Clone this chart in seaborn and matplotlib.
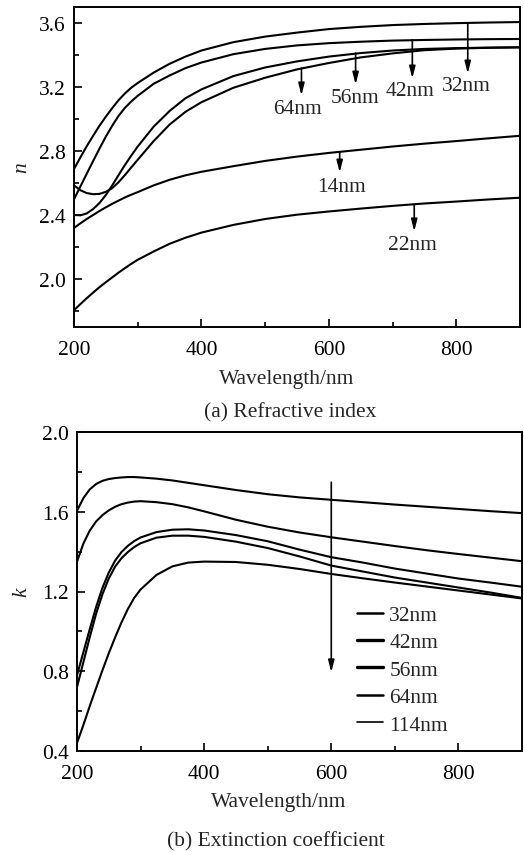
import numpy as np
import pandas as pd
import matplotlib
matplotlib.use("Agg")
import matplotlib.pyplot as plt
import seaborn as sns

# ---------------- data ----------------
wavelength = [200, 210, 220, 230, 240, 250, 260, 270, 280, 290, 300, 325, 350,
              375, 400, 450, 500, 550, 600, 650, 700, 750, 800, 850, 900]

n_labels = ["32nm", "42nm", "56nm", "64nm", "14nm", "22nm"]
n_32 = [2.687, 2.760, 2.830, 2.895, 2.958, 3.015, 3.068, 3.118, 3.160, 3.196, 3.225, 3.290, 3.345,
        3.390, 3.428, 3.480, 3.515, 3.540, 3.562, 3.576, 3.587, 3.594, 3.599, 3.603, 3.606]
n_42 = [2.498, 2.578, 2.658, 2.737, 2.815, 2.890, 2.958, 3.020, 3.070, 3.110, 3.145, 3.220, 3.272,
        3.318, 3.353, 3.405, 3.438, 3.460, 3.474, 3.483, 3.490, 3.494, 3.497, 3.499, 3.500]
n_56 = [2.400, 2.398, 2.410, 2.437, 2.475, 2.525, 2.585, 2.650, 2.713, 2.772, 2.828, 2.952, 3.050,
        3.130, 3.185, 3.268, 3.322, 3.360, 3.390, 3.412, 3.428, 3.438, 3.443, 3.446, 3.448]
n_64 = [2.585, 2.555, 2.537, 2.530, 2.532, 2.545, 2.568, 2.605, 2.650, 2.698, 2.745, 2.862, 2.965,
        3.045, 3.105, 3.195, 3.258, 3.310, 3.350, 3.385, 3.410, 3.430, 3.440, 3.445, 3.448]
n_14 = [2.319, 2.348, 2.375, 2.400, 2.425, 2.448, 2.470, 2.490, 2.510, 2.527, 2.543, 2.585, 2.620,
        2.648, 2.670, 2.705, 2.738, 2.765, 2.788, 2.808, 2.828, 2.846, 2.862, 2.879, 2.895]
n_22 = [1.805, 1.843, 1.880, 1.915, 1.949, 1.980, 2.010, 2.040, 2.068, 2.095, 2.120, 2.172, 2.220,
        2.258, 2.290, 2.338, 2.375, 2.402, 2.422, 2.440, 2.457, 2.472, 2.484, 2.497, 2.508]

k_labels = ["32nm", "42nm", "56nm", "64nm", "114nm"]
k_32 = [1.605, 1.668, 1.712, 1.739, 1.755, 1.764, 1.769, 1.772, 1.774, 1.774, 1.772, 1.766, 1.757,
        1.745, 1.733, 1.709, 1.688, 1.672, 1.660, 1.648, 1.636, 1.625, 1.614, 1.603, 1.593]
k_42 = [1.350, 1.440, 1.505, 1.551, 1.583, 1.607, 1.625, 1.638, 1.646, 1.651, 1.653, 1.648, 1.638,
        1.622, 1.602, 1.560, 1.525, 1.496, 1.472, 1.450, 1.428, 1.407, 1.388, 1.370, 1.352]
k_56 = [0.780, 0.895, 1.010, 1.122, 1.218, 1.295, 1.355, 1.398, 1.429, 1.453, 1.471, 1.498, 1.510,
        1.512, 1.506, 1.483, 1.452, 1.410, 1.372, 1.345, 1.315, 1.290, 1.265, 1.245, 1.224]
k_64 = [0.720, 0.845, 0.970, 1.088, 1.186, 1.265, 1.325, 1.367, 1.398, 1.423, 1.442, 1.470, 1.480,
        1.480, 1.474, 1.450, 1.418, 1.376, 1.330, 1.300, 1.270, 1.245, 1.220, 1.195, 1.168]
k_114 = [0.440, 0.530, 0.625, 0.715, 0.805, 0.890, 0.970, 1.045, 1.112, 1.168, 1.210, 1.283, 1.326,
         1.345, 1.350, 1.348, 1.334, 1.313, 1.288, 1.266, 1.245, 1.225, 1.205, 1.185, 1.165]

# arrow annotations (a): label, x, y_start, y_end, label x, label y
ann_labels = ["32nm", "42nm", "56nm", "64nm", "14nm", "22nm"]
ann_x = [818, 731, 642, 557, 617, 734]
ann_y0 = [3.600, 3.494, 3.412, 3.318, 2.795, 2.466]
ann_y1 = [3.285, 3.254, 3.216, 3.148, 2.666, 2.298]
ann_tx = [816, 727, 641, 550, 620, 731]
ann_ty = [3.21, 3.18, 3.132, 3.065, 2.58, 2.214]

# ---------------- frames ----------------
n_series = [n_32, n_42, n_56, n_64, n_14, n_22]
k_series = [k_32, k_42, k_56, k_64, k_114]
df_n = pd.concat([pd.DataFrame({"Wavelength": wavelength, "value": v, "film": lab})
                  for lab, v in zip(n_labels, n_series)], ignore_index=True)
df_k = pd.concat([pd.DataFrame({"Wavelength": wavelength, "value": v, "film": lab})
                  for lab, v in zip(k_labels, k_series)], ignore_index=True)

sns.set_style("ticks")
plt.rcParams["font.family"] = ["Liberation Serif", "DejaVu Serif"]
FS = 15.5

W, H = 524, 853
fig = plt.figure(figsize=(W / 100, H / 100), dpi=100)

def px_axes(l, t, r, b):
    return fig.add_axes([l / W, 1 - b / H, (r - l) / W, (b - t) / H])

ax1 = px_axes(74, 8, 520, 328)
ax2 = px_axes(77, 433, 522, 752)

sns.lineplot(data=df_n, x="Wavelength", y="value", hue="film", palette=["black"] * 6,
             linewidth=1.5, legend=False, ax=ax1, estimator=None, sort=False)
sns.lineplot(data=df_k, x="Wavelength", y="value", hue="film", palette=["black"] * 5,
             linewidth=1.5, legend=True, ax=ax2, estimator=None, sort=False)

for ax in (ax1, ax2):
    ax.set_xlim(200, 900)
    ax.set_xticks([200, 400, 600, 800])
    ax.set_xticks([300, 500, 700], minor=True)
    ax.set_xlabel("")
    ax.set_ylabel("")
    for s in ax.spines.values():
        s.set_visible(True)
        s.set_linewidth(1.4)
        s.set_color("black")
    ax.tick_params(which="both", direction="in", top=False, right=False,
                   labelsize=FS, width=1.2, colors="black")
    ax.tick_params(which="major", length=6)
    ax.tick_params(axis="y", which="major", pad=6)
    ax.tick_params(axis="x", which="major", pad=9.5)
    ax.tick_params(which="minor", length=3.5)

ax1.set_ylim(1.7, 3.7)
ax1.set_yticks([2.0, 2.4, 2.8, 3.2, 3.6])
ax1.set_yticks([1.8, 2.2, 2.6, 3.0, 3.4], minor=True)
ax1.set_yticklabels(["2.0", "2.4", "2.8", "3.2", "3.6"])

ax2.set_ylim(0.4, 2.0)
ax2.set_yticks([0.4, 0.8, 1.2, 1.6, 2.0])
ax2.set_yticks([0.6, 1.0, 1.4, 1.8], minor=True)
ax2.set_yticklabels(["0.4", "0.8", "1.2", "1.6", "2.0"])

for lab, x, y0, y1, tx, ty in zip(ann_labels, ann_x, ann_y0, ann_y1, ann_tx, ann_ty):
    ax1.annotate("", xy=(x, y1), xytext=(x, y0),
                 arrowprops=dict(arrowstyle="-|>,head_length=0.7,head_width=0.18",
                                 color="black", lw=1.2, mutation_scale=10,
                                 shrinkA=0, shrinkB=0))
    ax1.text(tx, ty, lab, ha="center", va="center", fontsize=FS)

ax2.annotate("", xy=(600, 0.795), xytext=(600, 1.748),
             arrowprops=dict(arrowstyle="-|>,head_length=0.7,head_width=0.18",
                             color="black", lw=1.2, mutation_scale=10,
                             shrinkA=0, shrinkB=0))

handles, labels = ax2.get_legend_handles_labels()
for h, lw in zip(handles, [1.8, 2.4, 2.4, 1.8, 1.2]):
    h.set_linewidth(lw)
    h.set_color("black")
ax2.legend(handles, labels, frameon=False, fontsize=FS, handlelength=1.2,
           handletextpad=0.3, labelspacing=0.34, loc="upper left",
           bbox_to_anchor=((357 - 77) / 445, 1 - (606 - 433) / 319),
           borderpad=0, borderaxespad=0)

def ftext(x, y, s, **kw):
    fig.text(x / W, 1 - y / H, s, ha="center", va="center", fontsize=FS, **kw)

ftext(287, 380, "Wavelength/nm")
ftext(290, 413, "(a) Refractive index")
ftext(279, 803, "Wavelength/nm")
ftext(276, 842, "(b) Extinction coefficient")
ftext(22, 168, "n", style="italic", rotation=90)
ftext(22, 592, "k", style="italic", rotation=90)

fig.savefig("out.png", dpi=100)
